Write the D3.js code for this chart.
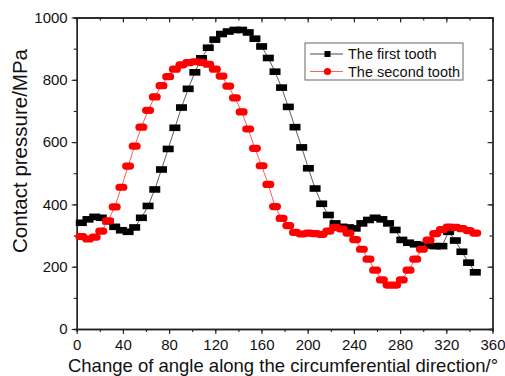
<!DOCTYPE html>
<html><head><meta charset="utf-8">
<script src="https://cdn.jsdelivr.net/npm/d3@7"></script>
<style>body{margin:0;background:#fff}svg{display:block}text{font-family:"Liberation Sans",Arial,sans-serif;fill:#111}</style>
</head><body>
<svg id="c" width="505" height="376"></svg>
<script>
const angles = [4,9.8,15.6,21.3,27.1,32.9,38.7,44.5,50.2,56,61.8,67.6,73.4,79.2,85,90.7,96.5,102.3,108.1,113.9,
  119.6,125.4,131.2,137,142.8,148.5,154.3,160.1,165.9,171.7,177.4,183.2,189,194.8,200.6,206.4,212.1,217.9,223.7,229.5,
  235.3,241.1,246.9,252.6,258.4,264.2,270,275.7,281.5,287.3,293.1,298.9,304.6,310.4,316.2,322,327.8,333.5,339.3,345.1];
const firstTooth = [341,352,360,357,346,328,317,312,326,357,395,448,512,578,646,711,771,824,869,903,
  929,947,955,960,960,952,932,907,870,826,775,713,648,583,516,451,402,366,339,328,
  326,323,339,350,357,352,339,318,286,277,272,270,268,266,266,312,284,248,213,182];
const secondTooth = [297,289,295,314,347,392,455,523,587,648,702,745,781,810,834,848,855,858,856,850,
  834,812,780,742,697,642,580,524,464,393,355,332,310,305,308,306,304,314,326,321,
  308,287,256,224,189,158,141,141,158,189,224,256,285,306,319,327,326,322,316,308];
const xTicks = [0,40,80,120,160,200,240,280,320,360];
const yTicks = [0,200,400,600,800,1000];
const seriesNames = ["The first tooth","The second tooth"];

const svg = d3.select("#c");
const L=76.7,R=492.5,T=17.5,B=329;
const x = d3.scaleLinear().domain([0,360]).range([L,R]);
const y = d3.scaleLinear().domain([0,1000]).range([B,T]);

const minorX = d3.range(0,361,20), minorY = d3.range(0,1001,100);
function styleAxis(g){ g.select(".domain").attr("stroke","#222").attr("stroke-width",1.3);
  g.selectAll(".tick line").attr("stroke","#222").attr("stroke-width",1.1);
  g.selectAll("text").style("font-size","15px").attr("fill","#111"); }
svg.append("g").attr("transform",`translate(0,${B})`)
  .call(d3.axisBottom(x).tickValues(minorX).tickSize(3).tickFormat("")).call(styleAxis);
svg.append("g").attr("transform",`translate(0,${B})`)
  .call(d3.axisBottom(x).tickValues(xTicks).tickSize(5).tickPadding(5).tickFormat(d3.format("d")).tickSizeOuter(0)).call(styleAxis);
svg.append("g").attr("transform",`translate(0,${T})`)
  .call(d3.axisBottom(x).tickValues(minorX).tickSize(3).tickFormat("")).call(styleAxis);
svg.append("g").attr("transform",`translate(0,${T})`)
  .call(d3.axisBottom(x).tickValues(xTicks).tickSize(5).tickFormat("").tickSizeOuter(0)).call(styleAxis);
svg.append("g").attr("transform",`translate(${L},0)`)
  .call(d3.axisLeft(y).tickValues(minorY).tickSize(3).tickFormat("")).call(styleAxis);
svg.append("g").attr("transform",`translate(${L},0)`)
  .call(d3.axisLeft(y).tickValues(yTicks).tickSize(5).tickPadding(4).tickFormat(d3.format("d")).tickSizeOuter(0)).call(styleAxis);
svg.append("g").attr("transform",`translate(${R},0)`)
  .call(d3.axisLeft(y).tickValues(minorY).tickSize(3).tickFormat("")).call(styleAxis);
svg.append("g").attr("transform",`translate(${R},0)`)
  .call(d3.axisLeft(y).tickValues(yTicks).tickSize(5).tickFormat("").tickSizeOuter(0)).call(styleAxis);

const line = d3.line().x(d=>x(d[0])).y(d=>y(d[1]));
const d1 = angles.map((a,i)=>[a,firstTooth[i]]);
const d2 = angles.map((a,i)=>[a,secondTooth[i]]);
svg.append("path").datum(d1).attr("d",line).attr("fill","none").attr("stroke","#333").attr("stroke-width",0.8);
svg.append("g").selectAll("rect").data(d1).join("rect")
  .attr("x",d=>x(d[0])-5.5).attr("y",d=>y(d[1])-3.3).attr("width",11).attr("height",6.6).attr("fill","#000");
svg.append("path").datum(d2).attr("d",line).attr("fill","none").attr("stroke","#ff3030").attr("stroke-width",0.8);
svg.append("g").selectAll("rect").data(d2).join("rect")
  .attr("x",d=>x(d[0])-6).attr("y",d=>y(d[1])-3.6).attr("width",12).attr("height",7.2)
  .attr("rx",3.6).attr("ry",3.6).attr("fill","#ff0000");

const lg = svg.append("g");
lg.append("rect").attr("x",305).attr("y",43).attr("width",158).attr("height",37)
  .attr("fill","#fff").attr("stroke","#666").attr("stroke-width",1);
[[54,"#333","#000",0],[71.5,"#ff5050","#f00",1]].forEach(([cy,lc,mc,k])=>{
  lg.append("line").attr("x1",310).attr("x2",343).attr("y1",cy).attr("y2",cy).attr("stroke",lc).attr("stroke-width",0.9);
  if(k===0) lg.append("rect").attr("x",324.5).attr("y",cy-3).attr("width",6).attr("height",6).attr("fill",mc);
  else lg.append("circle").attr("cx",327.5).attr("cy",cy).attr("r",3.6).attr("fill",mc);
  lg.append("text").attr("x",348).attr("y",cy+5).style("font-size","14.5px").text(seriesNames[k]);
});

svg.append("text").attr("x",283).attr("y",372).attr("text-anchor","middle")
  .style("font-size","18.5px").text("Change of angle along the circumferential direction/°");
svg.append("text").attr("transform",`translate(26.5,${(40+262)/2}) rotate(-90)`).attr("text-anchor","middle")
  .style("font-size","20.5px").text("Contact pressure/MPa");
</script>
</body></html>
